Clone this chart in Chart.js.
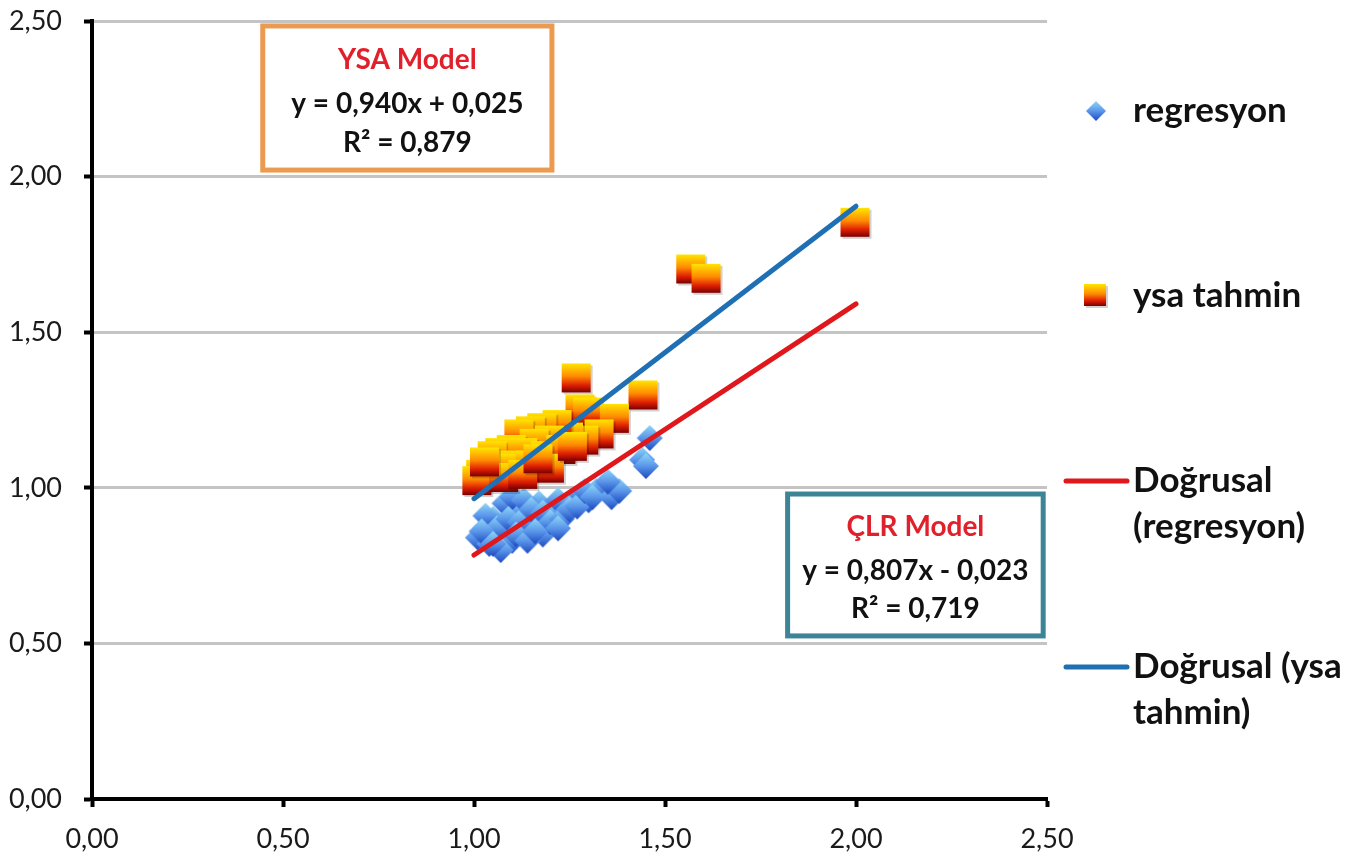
<!DOCTYPE html>
<html>
<head>
<meta charset="utf-8">
<script src="https://cdn.jsdelivr.net/npm/chart.js@4"></script>
<style>
  html, body { margin: 0; padding: 0; background: #fff; }
  #wrap { width: 1360px; height: 856px; }
</style>
</head>
<body>
<div id="wrap"><canvas id="myChart"></canvas></div>
<script>
// values
var xTickLabels = ['0,00', '0,50', '1,00', '1,50', '2,00', '2,50'];
var yTickLabels = ['0,00', '0,50', '1,00', '1,50', '2,00', '2,50'];

var regX = [1.01, 1.03, 1.05, 1.07, 1.09, 1.10, 1.12, 1.14, 1.16, 1.17, 1.19, 1.21, 1.22, 1.24, 1.26,
            1.28, 1.30, 1.32, 1.34, 1.36, 1.38, 1.08, 1.10, 1.13, 1.04, 1.07, 1.18, 1.03, 1.46, 1.44, 1.45,
            1.06, 1.09, 1.12, 1.15, 1.18, 1.20, 1.23, 1.25, 1.27, 1.29, 1.31, 1.35, 1.11, 1.14, 1.02, 1.05,
            1.16, 1.22];
var regY = [0.84, 0.87, 0.90, 0.85, 0.88, 0.83, 0.92, 0.86, 0.90, 0.95, 0.88, 0.91, 0.96, 0.92, 0.95,
            0.98, 0.96, 0.99, 1.00, 0.97, 0.99, 0.95, 0.97, 0.96, 0.82, 0.80, 0.85, 0.91, 1.16, 1.09, 1.07,
            0.87, 0.90, 0.89, 0.93, 0.92, 0.89, 0.90, 0.93, 0.94, 0.99, 0.97, 1.02, 0.85, 0.83, 0.86, 0.82,
            0.86, 0.87];

var ysaX = [2.00, 1.57, 1.61, 1.27, 1.445, 1.28, 1.30, 1.37, 1.33, 1.29, 1.25, 1.22, 1.18, 1.15, 1.12,
            1.20, 1.16, 1.10, 1.07, 1.05, 1.13, 1.19, 1.23, 1.09, 1.04, 1.02, 1.06, 1.11, 1.15, 1.20,
            1.01, 1.08, 1.13, 1.03, 1.26, 1.17];
var ysaY = [1.85, 1.70, 1.67, 1.35, 1.295, 1.25, 1.24, 1.22, 1.17, 1.15, 1.16, 1.20, 1.19, 1.18, 1.17,
            1.15, 1.14, 1.12, 1.11, 1.10, 1.11, 1.10, 1.12, 1.07, 1.06, 1.04, 1.05, 1.06, 1.07, 1.06,
            1.02, 1.03, 1.04, 1.08, 1.13, 1.09];

var trendX = [1.0, 2.0];
var regTrendY = [0.784, 1.591];
var ysaTrendY = [0.965, 1.905];

function pts(xs, ys) {
  return xs.map(function (x, i) { return { x: x, y: ys[i] }; });
}

// gradient marker sprites
function squareSprite(s) {
  var c = document.createElement('canvas');
  c.width = s + 4; c.height = s + 4;
  var g = c.getContext('2d');
  g.fillStyle = 'rgba(0,0,0,0.18)';
  g.fillRect(3, 3, s, s);
  var gr = g.createLinearGradient(0, 1, 0, s + 1);
  gr.addColorStop(0, '#ffe600');
  gr.addColorStop(0.45, '#ff8a00');
  gr.addColorStop(0.75, '#e02000');
  gr.addColorStop(1, '#7a0000');
  g.fillStyle = gr;
  g.fillRect(1, 1, s, s);
  return c;
}
function diamondSprite(s) {
  var c = document.createElement('canvas');
  c.width = s + 2; c.height = s + 2;
  var g = c.getContext('2d');
  var h = s / 2 + 1;
  var gr = g.createLinearGradient(0, 1, 0, s + 1);
  gr.addColorStop(0, '#8fd8f8');
  gr.addColorStop(0.5, '#5a96ea');
  gr.addColorStop(1, '#1c48c0');
  g.fillStyle = gr;
  g.beginPath();
  g.moveTo(h, 1); g.lineTo(s + 1, h); g.lineTo(h, s + 1); g.lineTo(1, h);
  g.closePath();
  g.fill();
  return c;
}
var sq = squareSprite(29), dm = diamondSprite(26);
var sqSmall = squareSprite(22), dmSmall = diamondSprite(20);

var FONT = 'Lato, "Open Sans", sans-serif';

// right-hand legend
var legendPlugin = {
  id: 'sideLegend',
  afterDraw: function (chart) {
    var c = chart.ctx;
    var items = [
      { kind: 'marker', img: dmSmall, lines: [chart.data.datasets[0].label], y: 111 },
      { kind: 'marker', img: sqSmall, lines: [chart.data.datasets[1].label], y: 296 },
      { kind: 'line', color: chart.data.datasets[2].borderColor, lines: ['Doğrusal', '(regresyon)'], y: 481 },
      { kind: 'line', color: chart.data.datasets[3].borderColor, lines: ['Doğrusal (ysa', 'tahmin)'], y: 667 }
    ];
    c.save();
    c.font = 'bold 35px ' + FONT;
    c.fillStyle = '#111';
    c.textBaseline = 'middle';
    items.forEach(function (it) {
      if (it.kind === 'marker') {
        c.drawImage(it.img, 1096 - it.img.width / 2, it.y - it.img.height / 2);
      } else {
        c.strokeStyle = it.color;
        c.lineWidth = 5;
        c.lineCap = 'round';
        c.beginPath();
        c.moveTo(1066, it.y); c.lineTo(1127, it.y);
        c.stroke();
      }
      it.lines.forEach(function (t, k) {
        c.fillText(t, 1133, it.y + k * 46);
      });
    });
    c.restore();
  }
};

// equation boxes, placed in data units
var boxes = [
  { x0: 0.447, x1: 1.204, y0: 2.484, y1: 2.021, border: '#ec9a50',
    lines: ['YSA Model', 'y = 0,940x + 0,025', 'R² = 0,879'] },
  { x0: 1.821, x1: 2.490, y0: 0.980, y1: 0.524, border: '#3c8496',
    lines: ['ÇLR Model', 'y = 0,807x - 0,023', 'R² = 0,719'] }
];
var boxPlugin = {
  id: 'eqBoxes',
  afterDraw: function (chart) {
    var c = chart.ctx, xs = chart.scales.x, ys = chart.scales.y;
    c.save();
    boxes.forEach(function (b) {
      var l = xs.getPixelForValue(b.x0), r = xs.getPixelForValue(b.x1);
      var t = ys.getPixelForValue(b.y0), bt = ys.getPixelForValue(b.y1);
      c.fillStyle = '#fff';
      c.fillRect(l, t, r - l, bt - t);
      c.strokeStyle = b.border;
      c.lineWidth = 5;
      c.strokeRect(l, t, r - l, bt - t);
      var cx = (l + r) / 2, h = bt - t;
      c.textAlign = 'center';
      c.textBaseline = 'middle';
      c.font = 'bold 28px ' + FONT;
      c.fillStyle = '#e0202a';
      c.fillText(b.lines[0], cx, t + h * 0.235);
      c.fillStyle = '#111';
      c.fillText(b.lines[1], cx, t + h * 0.54);
      c.fillText(b.lines[2], cx, t + h * 0.81);
    });
    c.restore();
  }
};

var ctx = document.getElementById('myChart').getContext('2d');
var myChart = new Chart(ctx, {
  type: 'scatter',
  data: {
    datasets: [{
      label: 'regresyon',
      data: pts(regX, regY),
      pointStyle: dm,
      order: 2
    }, {
      label: 'ysa tahmin',
      data: pts(ysaX, ysaY),
      pointStyle: sq,
      order: 1
    }, {
      label: 'Doğrusal (regresyon)',
      type: 'line',
      data: pts(trendX, regTrendY),
      showLine: true,
      borderColor: '#e0181c',
      borderWidth: 5,
      borderCapStyle: 'round',
      pointRadius: 0,
      order: 0
    }, {
      label: 'Doğrusal (ysa tahmin)',
      type: 'line',
      data: pts(trendX, ysaTrendY),
      showLine: true,
      borderColor: '#1f6fb4',
      borderWidth: 5,
      borderCapStyle: 'round',
      pointRadius: 0,
      order: 0
    }]
  },
  options: {
    responsive: true,
    maintainAspectRatio: false,
    animation: false,
    layout: { padding: { left: 0, right: 313, top: 21, bottom: 0 } },
    plugins: {
      legend: { display: false },
      tooltip: { enabled: false }
    },
    scales: {
      x: {
        type: 'linear',
        min: 0, max: 2.5,
        afterFit: function (s) { s.height = 57; s.paddingRight = 0; },
        border: { color: '#000', width: 4 },
        grid: { drawOnChartArea: false, tickLength: 8, tickColor: '#000', tickWidth: 4 },
        ticks: {
          stepSize: 0.5,
          padding: 16,
          color: '#1a1a1a',
          font: { family: FONT, size: 27 },
          callback: function (v, i) { return xTickLabels[i]; }
        }
      },
      y: {
        type: 'linear',
        min: 0, max: 2.5,
        afterFit: function (s) { s.width = 92; s.paddingTop = 0; s.paddingBottom = 0; },
        border: { color: '#000', width: 4 },
        grid: { color: '#c4c4c4', lineWidth: 3, tickLength: 8, tickColor: '#000', tickWidth: 4 },
        ticks: {
          stepSize: 0.5,
          padding: 22,
          color: '#1a1a1a',
          font: { family: FONT, size: 27 },
          callback: function (v, i) { return yTickLabels[i]; }
        }
      }
    }
  },
  plugins: [boxPlugin, legendPlugin]
});
</script>
</body>
</html>
